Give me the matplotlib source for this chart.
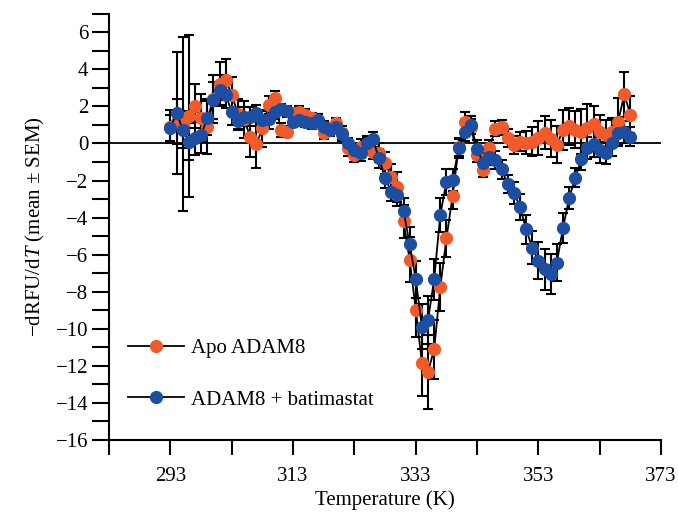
import numpy as np
import matplotlib
matplotlib.use("Agg")
import matplotlib.pyplot as plt
from matplotlib import rcParams

# Fonte tipo Times para ficar parecido com a figura original
rcParams['font.family'] = 'Liberation Serif'
rcParams['font.size'] = 15
rcParams['mathtext.fontset'] = 'custom'
rcParams['mathtext.rm'] = 'Liberation Serif'
rcParams['mathtext.it'] = 'Liberation Serif:italic'

# Temperaturas (K)
temperatura = list(range(293, 369))

# Apo ADAM8 (laranja)
apo_media = [0.91, 1.18, 1.05, 1.49, 2.03, 1.36, 0.91, 2.40, 3.20, 3.45,
             2.62, 1.60, 1.30, 0.37, -0.03, 0.82, 2.08, 2.44, 0.73, 0.64,
             1.63, 1.72, 1.54, 1.36, 1.09, 0.55, 0.82, 1.09, 0.55, -0.26,
             -0.62, -0.17, -0.10, -0.45, -0.50, -1.07, -1.79, -2.34, -4.20, -6.28,
             -8.98, -11.85, -12.33, -11.12, -7.77, -5.12, -2.84, -0.20, 1.18, 0.90,
             -0.60, -1.43, -0.23, 0.80, 0.88, 0.30, -0.08, 0.10, 0.05, 0.10,
             0.30, 0.58, 0.25, -0.08, 0.73, 0.93, 0.75, 0.64, 0.82, 1.05,
             0.64, 0.46, 0.60, 1.18, 2.65, 1.56]
apo_sem = [0.9, 1.2, 4.7, 4.4, 1.2, 1.3, 1.5, 1.3, 1.2, 1.1,
           1.0, 0.8, 1.0, 1.1, 1.3, 1.0, 0.5, 0.4, 0.4, 0.3,
           0.3, 0.3, 0.3, 0.3, 0.3, 0.3, 0.3, 0.3, 0.4, 0.4,
           0.4, 0.4, 0.4, 0.4, 0.5, 0.6, 0.7, 0.8, 0.9, 1.2,
           1.5, 1.8, 2.0, 1.6, 1.3, 1.0, 0.7, 0.5, 0.5, 0.4,
           0.4, 0.4, 0.4, 0.4, 0.4, 0.5, 0.5, 0.5, 0.6, 0.8,
           0.9, 0.9, 1.0, 1.0, 1.1, 1.0, 1.0, 1.2, 1.3, 1.0,
           0.9, 0.8, 0.8, 1.3, 1.2, 1.0]

# ADAM8 + batimastat (azul)
bati_media = [0.85, 1.66, 0.75, 0.10, 0.28, 0.46, 1.38, 2.33, 2.89, 2.62,
              1.72, 1.22, 1.45, 1.45, 1.66, 1.27, 1.30, 1.72, 1.85, 1.75,
              1.18, 1.27, 1.18, 1.09, 1.27, 0.91, 0.73, 0.91, 0.50, 0.01,
              -0.35, -0.53, 0.01, 0.23, -0.80, -1.88, -2.60, -2.78, -3.63, -5.43,
              -7.34, -9.90, -9.54, -7.34, -3.86, -2.06, -1.97, -0.26, 0.64, 1.00,
              -0.31, -1.04, -0.75, -0.89, -1.40, -2.19, -2.66, -3.42, -4.64, -5.63,
              -6.34, -6.80, -7.05, -6.44, -4.58, -2.96, -1.85, -0.85, -0.26, -0.03,
              -0.35, -0.53, 0.01, 0.55, 0.64, 0.37]
bati_sem = [0.7, 3.3, 1.0, 1.0, 0.9, 1.0, 0.9, 1.0, 0.8, 0.7,
            0.7, 0.5, 0.5, 0.5, 0.4, 0.5, 0.5, 0.4, 0.3, 0.3,
            0.3, 0.3, 0.3, 0.3, 0.3, 0.3, 0.3, 0.3, 0.3, 0.3,
            0.3, 0.4, 0.4, 0.4, 0.5, 0.5, 0.5, 0.6, 0.7, 0.9,
            1.0, 1.2, 1.3, 1.1, 0.9, 0.7, 0.6, 0.5, 0.5, 0.5,
            0.5, 0.5, 0.4, 0.5, 0.5, 0.5, 0.6, 0.7, 0.8, 0.9,
            1.0, 1.1, 1.1, 1.0, 0.8, 0.6, 0.5, 0.6, 0.6, 0.7,
            0.7, 0.6, 0.7, 0.6, 0.6, 0.5]

cor_apo = '#F15A29'
cor_bati = '#1C4FA3'

fig = plt.figure(figsize=(6.78, 5.18), dpi=100)
ax = fig.add_axes([0.161, 0.1515, 0.814, 0.8215])

# Linha do zero
ax.axhline(0, color='black', linewidth=1.3, zorder=1)

# Barras de erro (SEM)
ax.errorbar(temperatura, apo_media, yerr=apo_sem, fmt='none', ecolor='black',
            elinewidth=1.5, capsize=3.5, capthick=1.5, zorder=2)
ax.errorbar(temperatura, bati_media, yerr=bati_sem, fmt='none', ecolor='black',
            elinewidth=1.5, capsize=3.5, capthick=1.5, zorder=2)

# Curvas: linha preta com marcadores coloridos
ax.plot(temperatura, apo_media, '-o', color='black', linewidth=1.3,
        markersize=8.5, markerfacecolor=cor_apo, markeredgecolor=cor_apo,
        label='Apo ADAM8', zorder=3)
ax.plot(temperatura, bati_media, '-o', color='black', linewidth=1.3,
        markersize=8.5, markerfacecolor=cor_bati, markeredgecolor=cor_bati,
        label='ADAM8 + batimastat', zorder=4)

ax.set_xlim(283, 373)
ax.set_ylim(-16, 7)

# Eixo x: ticks a cada 10 K, rótulos a cada 20 K
ax.set_xticks(np.arange(283, 374, 10))
ax.set_xticklabels(['' if (t - 293) % 20 else str(t) for t in range(283, 374, 10)])
# Eixo y: ticks a cada 1, rótulos nos pares
ax.set_yticks(np.arange(-16, 8, 1))
ax.set_yticklabels(['' if v % 2 else '\u2212%d' % -v if v < 0 else str(v)
                    for v in range(-16, 8)])

ax.tick_params(axis='x', direction='out', length=11, width=1.5, pad=9)
ax.tick_params(axis='y', direction='out', length=12, width=1.5, pad=3)

for lado in ['top', 'right']:
    ax.spines[lado].set_visible(False)
for lado in ['left', 'bottom']:
    ax.spines[lado].set_linewidth(1.5)

ax.set_xlabel('Temperature (K)', fontsize=15, labelpad=3)
ax.set_ylabel('\u2212dRFU/d$\\mathit{T}$ (mean \u00b1 SEM)', fontsize=15, labelpad=6)

ax.legend(loc='upper left', bbox_to_anchor=(0.0, 0.282), frameon=False,
          fontsize=15, handlelength=2.7, labelspacing=1.55, handletextpad=0.35)

fig.savefig('out.png', dpi=100)
